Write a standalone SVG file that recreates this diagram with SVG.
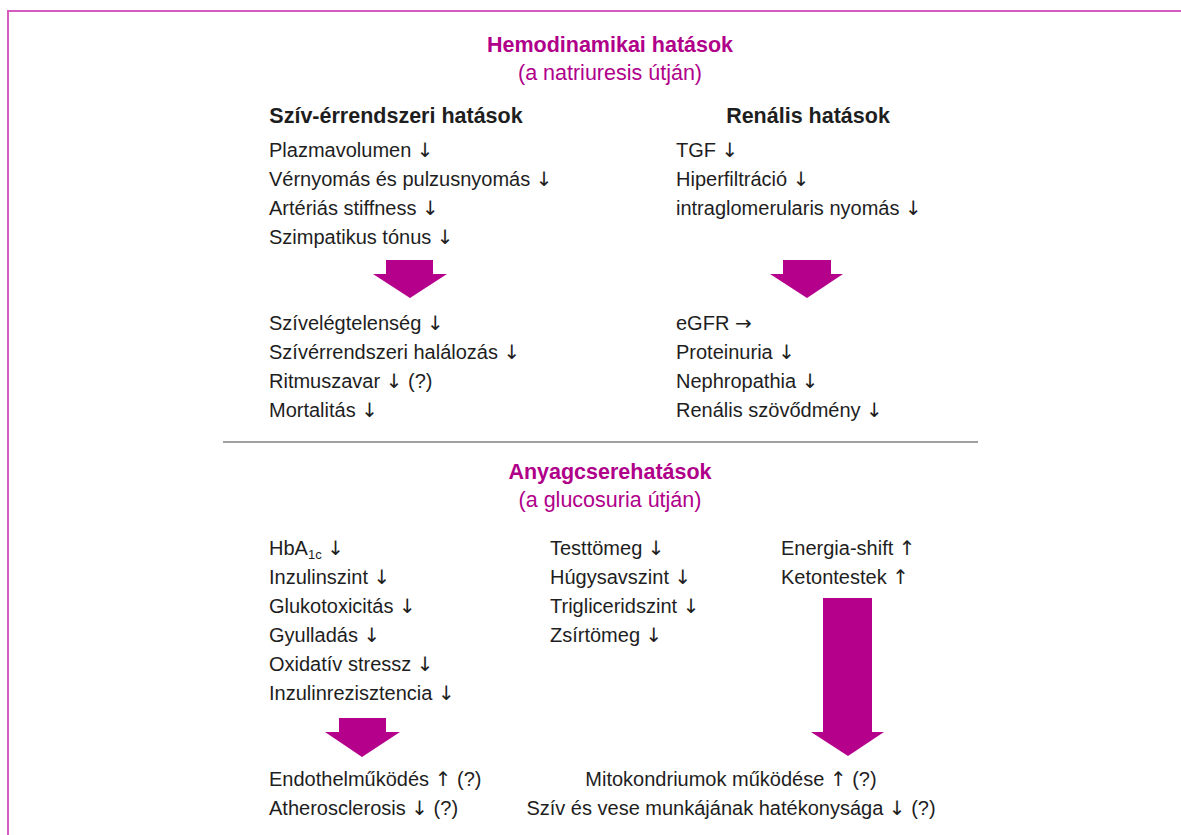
<svg xmlns="http://www.w3.org/2000/svg" width="1181" height="835" viewBox="0 0 1181 835">
<style>
.t{font-family:"Liberation Sans",Arial,sans-serif;font-size:20px;fill:#1e1e1e}
.b{font-weight:bold;font-size:21.5px}
.h{font-size:21.5px}
.m{fill:#b0008a}
.c{text-anchor:middle}
.a{font-family:"DejaVu Sans",sans-serif;font-weight:normal}
.arr{fill:#b5008c}
</style>
<rect width="1181" height="835" fill="#fff"/>
<rect x="8" y="11" width="1200" height="900" fill="none" stroke="#d45cbf" stroke-width="2"/>
<line x1="223" y1="442" x2="978" y2="442" stroke="#808080" stroke-width="1.5"/>
<g id="hemo-title">
<text class="t b m c" x="610" y="52">Hemodinamikai hatások</text>
<text class="t h m c" x="610" y="80">(a natriuresis útján)</text>
</g>
<g id="cardio">
<text class="t b c" x="396" y="123">Szív-érrendszeri hatások</text>
<text class="t" x="269" y="157">Plazmavolumen <tspan class="a">↓</tspan></text>
<text class="t" x="269" y="186">Vérnyomás és pulzusnyomás <tspan class="a">↓</tspan></text>
<text class="t" x="269" y="215">Artériás stiffness <tspan class="a">↓</tspan></text>
<text class="t" x="269" y="244">Szimpatikus tónus <tspan class="a">↓</tspan></text>
</g>
<g id="renal">
<text class="t b c" x="808" y="123">Renális hatások</text>
<text class="t" x="676" y="157">TGF <tspan class="a">↓</tspan></text>
<text class="t" x="676" y="186">Hiperfiltráció <tspan class="a">↓</tspan></text>
<text class="t" x="676" y="215">intraglomerularis nyomás <tspan class="a">↓</tspan></text>
</g>
<g id="cardio-out">
<text class="t" x="269" y="330">Szívelégtelenség <tspan class="a">↓</tspan></text>
<text class="t" x="269" y="359">Szívérrendszeri halálozás <tspan class="a">↓</tspan></text>
<text class="t" x="269" y="388">Ritmuszavar <tspan class="a">↓</tspan> (?)</text>
<text class="t" x="269" y="417">Mortalitás <tspan class="a">↓</tspan></text>
</g>
<g id="renal-out">
<text class="t" x="676" y="330">eGFR <tspan class="a">→</tspan></text>
<text class="t" x="676" y="359">Proteinuria <tspan class="a">↓</tspan></text>
<text class="t" x="676" y="388">Nephropathia <tspan class="a">↓</tspan></text>
<text class="t" x="676" y="417">Renális szövődmény <tspan class="a">↓</tspan></text>
</g>
<g id="meta-title">
<text class="t b m c" x="610" y="479">Anyagcserehatások</text>
<text class="t h m c" x="610" y="507">(a glucosuria útján)</text>
</g>
<g id="meta-col1">
<text class="t" x="269" y="555">HbA<tspan font-size="13" dy="4">1c</tspan><tspan dy="-4"> </tspan><tspan class="a">↓</tspan></text>
<text class="t" x="269" y="584">Inzulinszint <tspan class="a">↓</tspan></text>
<text class="t" x="269" y="613">Glukotoxicitás <tspan class="a">↓</tspan></text>
<text class="t" x="269" y="642">Gyulladás <tspan class="a">↓</tspan></text>
<text class="t" x="269" y="671">Oxidatív stressz <tspan class="a">↓</tspan></text>
<text class="t" x="269" y="700">Inzulinrezisztencia <tspan class="a">↓</tspan></text>
</g>
<g id="meta-col2">
<text class="t" x="550" y="555">Testtömeg <tspan class="a">↓</tspan></text>
<text class="t" x="550" y="584">Húgysavszint <tspan class="a">↓</tspan></text>
<text class="t" x="550" y="613">Trigliceridszint <tspan class="a">↓</tspan></text>
<text class="t" x="550" y="642">Zsírtömeg <tspan class="a">↓</tspan></text>
</g>
<g id="meta-col3">
<text class="t" x="781" y="555">Energia-shift <tspan class="a">↑</tspan></text>
<text class="t" x="781" y="584">Ketontestek <tspan class="a">↑</tspan></text>
</g>
<g id="endo-out">
<text class="t" x="269" y="786">Endothelműködés <tspan class="a">↑</tspan> (?)</text>
<text class="t" x="269" y="815">Atherosclerosis <tspan class="a">↓</tspan> (?)</text>
</g>
<g id="mito-out">
<text class="t c" x="731" y="786">Mitokondriumok működése <tspan class="a">↑</tspan> (?)</text>
<text class="t c" x="731" y="815">Szív és vese munkájának hatékonysága <tspan class="a">↓</tspan> (?)</text>
</g>
<g id="connectors">
<polygon class="arr" points="386,260 433,260 433,274 447,274 410,298 373,274 386,274"/>
<polygon class="arr" points="783,260 831,260 831,274 843,274 807,298 770,274 783,274"/>
<polygon class="arr" points="339,718 386,718 386,732 400,732 362,757 325,732 339,732"/>
<polygon class="arr" points="823,598 872,598 872,732 884,732 848,756 811,732 823,732"/>
</g>
</svg>
